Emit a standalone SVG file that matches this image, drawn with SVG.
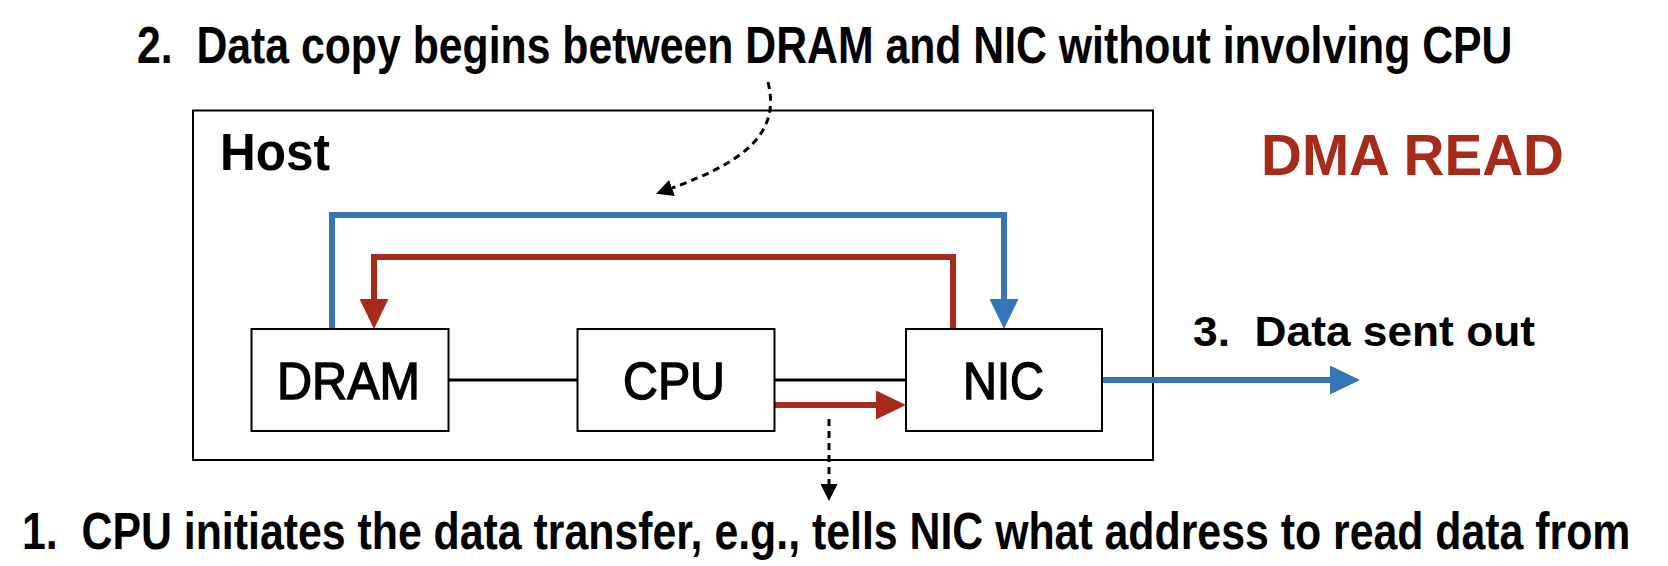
<svg xmlns="http://www.w3.org/2000/svg" width="1668" height="566" viewBox="0 0 1668 566">
<style>
  .box { fill: #ffffff; stroke: #000000; stroke-width: 2; }
  .host { fill: none; stroke: #000000; stroke-width: 2; }
  .t { font-family: "Liberation Sans", Arial, Helvetica, sans-serif; font-weight: bold; fill: #000000; }
  .lbl { font-family: "Liberation Sans", Arial, Helvetica, sans-serif; font-weight: normal; fill: #000000; stroke: #000000; stroke-width: 1.4; font-size: 51px; }
  .blk { fill: none; stroke: #000000; stroke-width: 3; }
  .red { fill: none; stroke: #A62B1B; stroke-width: 6; stroke-linejoin: miter; }
  .blue { fill: none; stroke: #3575B9; stroke-width: 6; stroke-linejoin: miter; }
  .dash { fill: none; stroke: #000000; stroke-width: 3; stroke-dasharray: 7 5; }
</style>
<defs>
  <marker id="ahRed" markerUnits="userSpaceOnUse" markerWidth="30" markerHeight="29" refX="0" refY="14.5" orient="auto" viewBox="0 0 30 29">
    <path d="M0,0 L30,14.5 L0,29 z" fill="#A62B1B"/>
  </marker>
  <marker id="ahBlue" markerUnits="userSpaceOnUse" markerWidth="30" markerHeight="29" refX="0" refY="14.5" orient="auto" viewBox="0 0 30 29">
    <path d="M0,0 L30,14.5 L0,29 z" fill="#3575B9"/>
  </marker>
  <marker id="ahBlack" markerUnits="userSpaceOnUse" markerWidth="17" markerHeight="17" refX="0" refY="8.5" orient="auto" viewBox="0 0 17 17">
    <path d="M0,0 L17,8.5 L0,17 z" fill="#000000"/>
  </marker>
</defs>
<rect width="1668" height="566" fill="#ffffff"/>

<g id="host">
  <rect class="host" x="193" y="110.5" width="960" height="349.5"/>
  <text class="t" x="220" y="170" font-size="51" textLength="110" lengthAdjust="spacingAndGlyphs">Host</text>
</g>

<g id="title-dma-read">
  <text class="t" x="1261" y="175" font-size="58" style="fill:#A62B1B" textLength="303" lengthAdjust="spacingAndGlyphs">DMA READ</text>
</g>

<g id="connectors">
  <line class="blk" x1="449" y1="380" x2="577" y2="380"/>
  <line class="blk" x1="775" y1="380" x2="906" y2="380"/>
  <path class="red" d="M775,405 H876" marker-end="url(#ahRed)"/>
  <path class="blue" d="M332,329 V215 H1004 V299" marker-end="url(#ahBlue)"/>
  <path class="red" d="M953,329 V257 H374 V299" marker-end="url(#ahRed)"/>
  <path class="blue" d="M1102,380 H1330" marker-end="url(#ahBlue)"/>
  <path class="dash" d="M829,419 V484" marker-end="url(#ahBlack)"/>
  <path class="dash" d="M768,82 C780,130 750,160 672,188" marker-end="url(#ahBlack)"/>
</g>

<g id="dram">
  <rect class="box" x="251.5" y="329" width="197" height="102"/>
  <text class="lbl" x="277" y="399" textLength="143" lengthAdjust="spacingAndGlyphs">DRAM</text>
</g>
<g id="cpu">
  <rect class="box" x="577.5" y="329" width="197" height="102"/>
  <text class="lbl" x="623" y="399" textLength="102" lengthAdjust="spacingAndGlyphs">CPU</text>
</g>
<g id="nic">
  <rect class="box" x="906" y="329" width="196" height="102"/>
  <text class="lbl" x="963" y="399" textLength="81" lengthAdjust="spacingAndGlyphs">NIC</text>
</g>

<g id="label-step2">
  <text class="t" transform="translate(137,63) scale(0.8225,1)" x="0" y="0" font-size="52" xml:space="preserve" style="white-space:pre">2.  Data copy begins between DRAM and NIC without involving CPU</text>
</g>
<g id="label-step3">
  <text class="t" x="1193" y="346" font-size="43" xml:space="preserve" style="white-space:pre" textLength="342" lengthAdjust="spacingAndGlyphs">3.  Data sent out</text>
</g>
<g id="label-step1">
  <text class="t" transform="translate(22,549) scale(0.8235,1)" x="0" y="0" font-size="52" xml:space="preserve" style="white-space:pre">1.  CPU initiates the data transfer, e.g., tells NIC what address to read data from</text>
</g>
</svg>
